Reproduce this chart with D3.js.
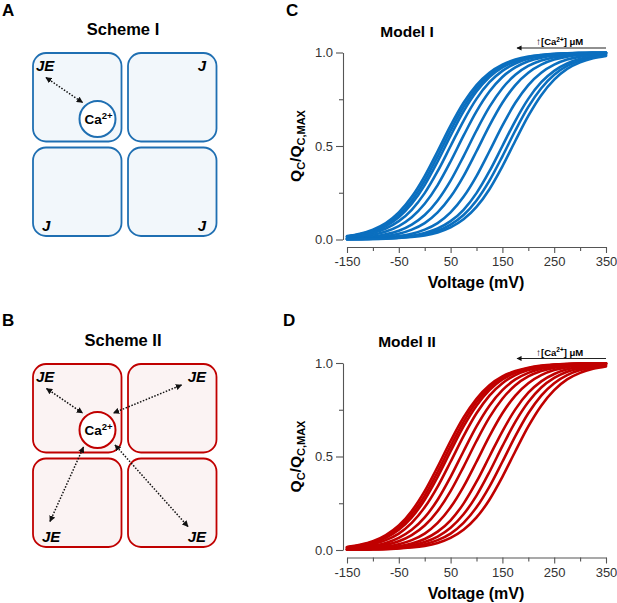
<!DOCTYPE html>
<html>
<head>
<meta charset="utf-8">
<script src="https://cdn.jsdelivr.net/npm/d3@7"></script>
<style>
body { margin: 0; background: #fff; }
text { font-family: Arial, "Liberation Sans", sans-serif; }
</style>
</head>
<body>
<div id="fig"></div>
<script>
// voltages (mV) at which each Q-V curve was read
var voltages = [-150, -125, -100, -75, -50, -25, 0, 25, 50, 75, 100, 125, 150, 175, 200, 225, 250, 275, 300, 325, 350];

// Model I, QC/QC,MAX curves (low to high Ca shifts them left)
var modelI = [
  [.018,.031,.053,.088,.145,.228,.339,.472,.609,.731,.826,.892,.935,.962,.978,.987,.993,.996,.998,.999,.999],
  [.016,.028,.047,.080,.131,.209,.315,.445,.583,.709,.809,.881,.928,.957,.975,.986,.992,.995,.997,.998,.999],
  [.015,.025,.043,.072,.119,.191,.291,.417,.555,.685,.791,.869,.920,.953,.972,.984,.991,.995,.997,.998,.999],
  [.012,.020,.035,.059,.098,.159,.248,.365,.500,.635,.752,.841,.902,.941,.966,.980,.988,.993,.996,.998,.999],
  [.008,.015,.025,.043,.072,.119,.191,.291,.417,.555,.685,.791,.869,.920,.953,.972,.984,.991,.995,.997,.998],
  [.005,.009,.016,.028,.047,.080,.131,.209,.315,.445,.583,.709,.809,.881,.928,.957,.975,.986,.992,.995,.997],
  [.004,.006,.010,.018,.031,.053,.088,.145,.228,.339,.472,.609,.731,.826,.892,.935,.962,.978,.987,.993,.996],
  [.002,.004,.006,.010,.018,.031,.053,.088,.145,.228,.339,.472,.609,.731,.826,.892,.935,.962,.978,.987,.993],
  [.001,.002,.004,.007,.012,.020,.035,.059,.098,.159,.248,.365,.500,.635,.752,.841,.902,.941,.966,.980,.988],
  [.001,.002,.003,.005,.009,.016,.028,.047,.080,.131,.209,.315,.445,.583,.709,.809,.881,.928,.957,.975,.986],
  [.001,.001,.003,.004,.008,.013,.022,.038,.065,.108,.174,.269,.391,.528,.661,.772,.855,.912,.947,.969,.982]
];

// Model II
var modelII = [
  [.016,.028,.047,.080,.131,.209,.315,.445,.583,.709,.809,.881,.928,.957,.975,.986,.992,.995,.997,.998,.999],
  [.015,.025,.043,.072,.119,.191,.291,.417,.555,.685,.791,.869,.920,.953,.972,.984,.991,.995,.997,.998,.999],
  [.013,.022,.038,.065,.108,.174,.269,.391,.528,.661,.772,.855,.912,.947,.969,.982,.990,.994,.997,.998,.999],
  [.010,.018,.031,.053,.088,.145,.228,.339,.472,.609,.731,.826,.892,.935,.962,.978,.987,.993,.996,.998,.999],
  [.008,.013,.022,.038,.065,.108,.174,.269,.391,.528,.661,.772,.855,.912,.947,.969,.982,.990,.994,.997,.998],
  [.005,.009,.016,.028,.047,.080,.131,.209,.315,.445,.583,.709,.809,.881,.928,.957,.975,.986,.992,.995,.997],
  [.004,.006,.010,.018,.031,.053,.088,.145,.228,.339,.472,.609,.731,.826,.892,.935,.962,.978,.987,.993,.996],
  [.002,.004,.007,.012,.020,.035,.059,.098,.159,.248,.365,.500,.635,.752,.841,.902,.941,.966,.980,.988,.993],
  [.002,.003,.005,.008,.015,.025,.043,.072,.119,.191,.291,.417,.555,.685,.791,.869,.920,.953,.972,.984,.991],
  [.001,.002,.004,.006,.010,.018,.031,.053,.088,.145,.228,.339,.472,.609,.731,.826,.892,.935,.962,.978,.987],
  [.001,.001,.003,.004,.008,.013,.022,.038,.065,.108,.174,.269,.391,.528,.661,.772,.855,.912,.947,.969,.982]
];

var xTicks = [-150, -50, 50, 150, 250, 350];
var xMinor = [-100, 0, 100, 200, 300];
var yTicks = [0, 0.5, 1];
var yMinor = [0.25, 0.75];

// corner labels of the four junction tiles (TL, TR, BL, BR)
var tilesI = ["JE", "J", "J", "J"];
var tilesII = ["JE", "JE", "JE", "JE"];

var blue = "#0b6fbf", red = "#c00000";

var svg = d3.select("#fig").append("svg")
  .attr("width", 617).attr("height", 603);

// arrow heads
var defs = svg.append("defs");
defs.append("marker")
  .attr("id", "head")
  .attr("viewBox", "0 0 10 10")
  .attr("refX", 9).attr("refY", 5)
  .attr("markerWidth", 4.2).attr("markerHeight", 4.2)
  .attr("markerUnits", "strokeWidth")
  .attr("orient", "auto-start-reverse")
  .append("path").attr("d", "M0,0 L10,5 L0,10 z").attr("fill", "#111");

function panelLetter(x, y, t) {
  svg.append("text").attr("x", x).attr("y", y)
    .attr("font-size", 17).attr("font-weight", "bold").text(t);
}

function drawScheme(oy, color, fill, title, tiles, arrows) {
  var g = svg.append("g").attr("transform", "translate(0," + oy + ")");
  g.append("text").attr("x", 123).attr("y", 35)
    .attr("text-anchor", "middle").attr("font-size", 16.5).attr("font-weight", "bold")
    .text(title);

  var cells = [[33, 53], [128, 53], [33, 147.5], [128, 147.5]];
  g.selectAll("rect.tile").data(cells).join("rect")
    .attr("class", "tile")
    .attr("x", d => d[0]).attr("y", d => d[1])
    .attr("width", 88.5).attr("height", 88.5)
    .attr("rx", 13).attr("ry", 13)
    .attr("fill", fill).attr("stroke", color).attr("stroke-width", 1.8);

  var spots = [[36, 71, "start"], [206, 71, "end"], [42, 231, "start"], [206, 231, "end"]];
  g.selectAll("text.lab").data(tiles).join("text")
    .attr("class", "lab")
    .attr("x", (d, i) => spots[i][0]).attr("y", (d, i) => spots[i][1])
    .attr("text-anchor", (d, i) => spots[i][2])
    .attr("font-size", 15).attr("font-weight", "bold").attr("font-style", "italic")
    .text(d => d);

  g.append("circle").attr("cx", 97.5).attr("cy", 119)
    .attr("r", 18).attr("fill", "#fff").attr("stroke", color).attr("stroke-width", 2);
  var ca = g.append("text").attr("x", 98.5).attr("y", 123.5)
    .attr("text-anchor", "middle").attr("font-size", 13.5).attr("font-weight", "bold");
  ca.append("tspan").text("Ca");
  ca.append("tspan").attr("dy", -5).attr("font-size", 9.5).text("2+");

  g.selectAll("line.arr").data(arrows).join("line")
    .attr("class", "arr")
    .attr("x1", d => d[0]).attr("y1", d => d[1])
    .attr("x2", d => d[2]).attr("y2", d => d[3])
    .attr("stroke", "#111").attr("stroke-width", 1.5)
    .attr("stroke-dasharray", "1.5,1.6")
    .attr("marker-start", "url(#head)").attr("marker-end", "url(#head)");
}

function drawModel(oy, color, title, curves) {
  var g = svg.append("g").attr("transform", "translate(0," + oy + ")");
  var x = d3.scaleLinear().domain([-150, 350]).range([347, 606]);
  var y = d3.scaleLinear().domain([0, 1]).range([239.5, 52.5]);

  g.append("text").attr("x", 407).attr("y", 36.5)
    .attr("text-anchor", "middle").attr("font-size", 15.5).attr("font-weight", "bold")
    .text(title);

  // y axis
  var ya = g.append("g").attr("transform", "translate(343,0)")
    .call(d3.axisLeft(y).tickValues(yTicks).tickFormat(d => d.toFixed(1))
      .tickSize(7).tickSizeOuter(0).tickPadding(3));
  ya.append("g").call(d3.axisLeft(y).tickValues(yMinor).tickFormat("").tickSize(4).tickSizeOuter(0))
    .select(".domain").remove();
  // x axis
  var xa = g.append("g").attr("transform", "translate(0,247)")
    .call(d3.axisBottom(x).tickValues(xTicks).tickFormat(d => String(d))
      .tickSize(6).tickSizeOuter(0).tickPadding(4));
  xa.append("g").call(d3.axisBottom(x).tickValues(xMinor).tickFormat("").tickSize(4).tickSizeOuter(0))
    .select(".domain").remove();
  g.selectAll(".domain, .tick line").attr("stroke", "#555").attr("stroke-width", 1.1);
  g.selectAll(".tick text").attr("font-size", 13).attr("fill", "#333")
    .attr("font-family", "Arial, 'Liberation Sans', sans-serif");

  g.append("text").attr("x", 476).attr("y", 288)
    .attr("text-anchor", "middle").attr("font-size", 16).attr("font-weight", "bold")
    .text("Voltage (mV)");

  var yl = g.append("text").attr("transform", "translate(301,146) rotate(-90)")
    .attr("text-anchor", "middle").attr("font-size", 15.5).attr("font-weight", "bold");
  yl.append("tspan").text("Q");
  yl.append("tspan").attr("dy", 4).attr("font-size", 11).text("C");
  yl.append("tspan").attr("dy", -4).text("/Q");
  yl.append("tspan").attr("dy", 4).attr("font-size", 11).text("C,MAX");

  // legend arrow
  g.append("line").attr("x1", 606).attr("y1", 48).attr("x2", 517).attr("y2", 48)
    .attr("stroke", "#222").attr("stroke-width", 1.2)
    .attr("marker-end", "url(#head)");
  var lg = g.append("text").attr("x", 536).attr("y", 45)
    .attr("font-size", 9.5).attr("font-weight", "bold");
  lg.append("tspan").attr("font-size", 10).text("\u2191");
  lg.append("tspan").text("[Ca");
  lg.append("tspan").attr("dy", -3.5).attr("font-size", 6.5).text("2+");
  lg.append("tspan").attr("dy", 3.5).text("] \u03bcM");

  var line = d3.line()
    .x((d, i) => x(voltages[i]))
    .y(d => y(d))
    .curve(d3.curveMonotoneX);
  g.append("g").selectAll("path").data(curves).join("path")
    .attr("d", line)
    .attr("fill", "none").attr("stroke", color).attr("stroke-width", 2.6)
    .attr("stroke-linecap", "round");
}

panelLetter(2, 16, "A");
panelLetter(2, 326, "B");
panelLetter(286, 16, "C");
panelLetter(283, 326, "D");

drawScheme(0, "#1f6fb2", "#f2f7fb", "Scheme I", tilesI,
  [[46, 77.5, 82.5, 102.5]]);
drawScheme(311, red, "#fbf3f3", "Scheme II", tilesII,
  [[46.5, 77.5, 82.5, 102],
   [181.5, 74, 113.5, 102],
   [50, 210.5, 83.5, 136],
   [188, 215.5, 115, 134]]);

drawModel(0, blue, "Model I", modelI);
drawModel(310.5, red, "Model II", modelII);
</script>
</body>
</html>
